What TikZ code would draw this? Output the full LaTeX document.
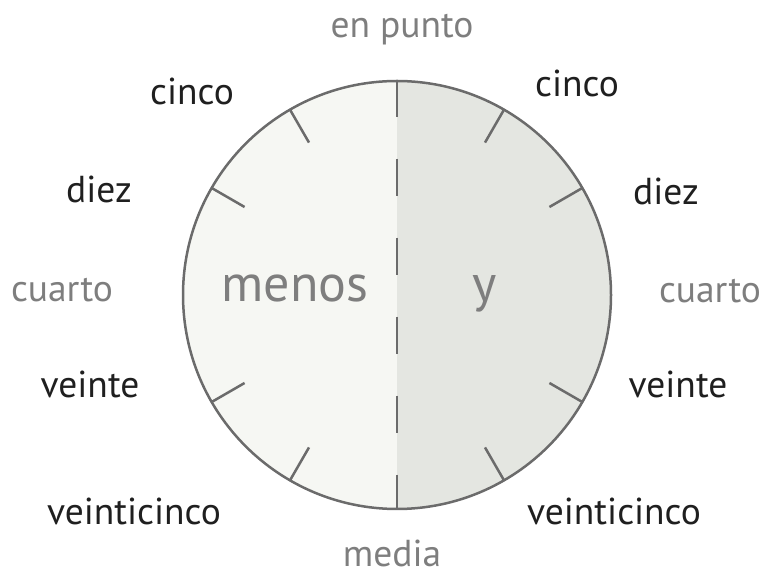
\documentclass[tikz,border=0pt]{standalone}
\usepackage{fontspec}
\setmainfont{PT Sans}
\usepackage{xcolor}
\usepackage{tikz}
\definecolor{inkgrey}{HTML}{6B6B6B}
\definecolor{softgrey}{HTML}{7E7E7E}
\definecolor{menosfill}{HTML}{F6F7F3}
\definecolor{yfill}{HTML}{E4E6E1}
\tikzset{%
  word/.style={anchor=base,text=black!88,font=\fontsize{37.5}{41}\selectfont,inner sep=0pt}
}
\tikzset{%
  softword/.style={word,text=softgrey}
}
\tikzset{%
  bigword/.style={softword,font=\fontsize{52}{56}\selectfont}
}
\tikzset{%
  rim/.style={draw=inkgrey,line width=2.5pt},
  tick/.style={draw=inkgrey,line width=2.5pt},
  midline/.style={draw=inkgrey,line width=2.5pt,dash pattern=on 37pt off 42pt}
}
\newcommand\clockr{214}
\begin{document}
\begin{tikzpicture}[x=1pt,y=1pt]
            \useasboundingbox (0,0) rectangle (765,575);
            \coordinate (c) at (397,280);
            % two halves
            \fill[menosfill] (c) ++(0,\clockr) arc[start angle=90,end angle=270,radius=\clockr] -- cycle;
            \fill[yfill] (c) ++(0,\clockr) arc[start angle=90,end angle=-90,radius=\clockr] -- cycle;
            \node[rim,circle,minimum size=2*\clockr,inner sep=0pt](clock) at (c){};
            \draw[midline] (clock.north) -- (clock.south);
            \foreach \a in {30,60,120,150,210,240,300,330}
                \draw[tick] (c) ++(\a:176) -- ++(\a:38);

            \node[bigword](menos) at (295,273){menos};
            \node[bigword](yword) at (485,273){y};

            \node[softword](punto) at (402,537){en punto};
            \node[softword](media) at (392,9){media};
            \node[softword](cuartol) at (62,273){cuarto};
            \node[softword](cuartor) at (710,272){cuarto};

            \node[word](cincol) at (192,470){cinco};
            \node[word](cincor) at (577,478){cinco};
            \node[word](diezl) at (99,372){diez};
            \node[word](diezr) at (666,370){diez};
            \node[word](veintel) at (90,177){veinte};
            \node[word](veinter) at (678,177){veinte};
            \node[word](vcincol) at (134,50){veinticinco};
            \node[word](vcincor) at (614,50){veinticinco};
        \end{tikzpicture}
\end{document}
